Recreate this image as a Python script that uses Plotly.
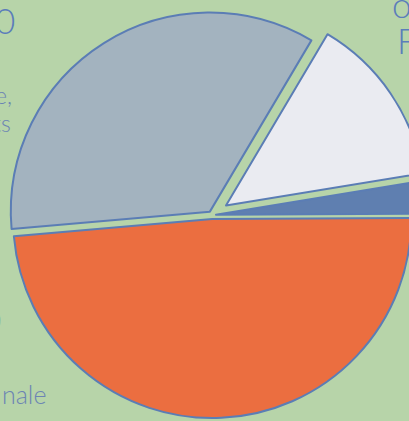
import plotly.graph_objects as go

# Slice data (counter-clockwise order, starting just above 3 o'clock)
slice_labels = ["A", "B", "C", "D"]
slice_values = [2.5, 13.9, 34.9, 48.7]
slice_colors = ["#5f7fb0", "#eaebf1", "#a3b3bf", "#eb6e40"]
slice_pulls = [0.02, 0.085, 0.02, 0.02]

# Cropped text fragments visible around the chart
frag_texts = ["0", "e,", "ts", "0", "nale", "o", "F"]
frag_x_px = [21, 18, 17, 7, 52, 394, 399]
frag_y_px = [21, 96, 124, 320, 395, 5, 41]
frag_anchor = ["right", "right", "right", "right", "right", "left", "left"]
frag_sizes = [35, 23, 23, 35, 25, 35, 35]
frag_colors = ["#5b7dbb", "#6c84b4", "#6c84b4", "#5b7dbb", "#6c84b4", "#5b7dbb", "#5b7dbb"]

W, H = 432, 432

fig = go.Figure(
    go.Pie(
        labels=slice_labels,
        values=slice_values,
        sort=False,
        direction="counterclockwise",
        rotation=80.7,
        pull=slice_pulls,
        marker=dict(colors=slice_colors, line=dict(color="#5b7db5", width=2)),
        textinfo="none",
        hoverinfo="label+percent",
        showlegend=False,
        domain=dict(x=[0, 1], y=[0, 1]),
    )
)

for t, xp, yp, anc, sz, col in zip(frag_texts, frag_x_px, frag_y_px, frag_anchor, frag_sizes, frag_colors):
    fig.add_annotation(
        text=t,
        xref="paper", yref="paper",
        x=xp / W, y=1 - yp / H,
        xanchor=anc, yanchor="middle",
        showarrow=False,
        font=dict(family="Lato", size=sz, color=col, weight=300),
    )

fig.update_layout(
    width=W, height=H,
    margin=dict(l=0, r=0, t=0, b=0),
    paper_bgcolor="#b7d4a9",
    plot_bgcolor="#b7d4a9",
)

post = (
    "document.documentElement.style.overflow='hidden';"
    "document.body.style.overflow='hidden';"
    "document.body.style.margin='-1px 0 0 -4px';"
    "document.body.style.background='#b7d4a9';"
)
fig.write_html("out.html", post_script=post, config={"displayModeBar": False})
